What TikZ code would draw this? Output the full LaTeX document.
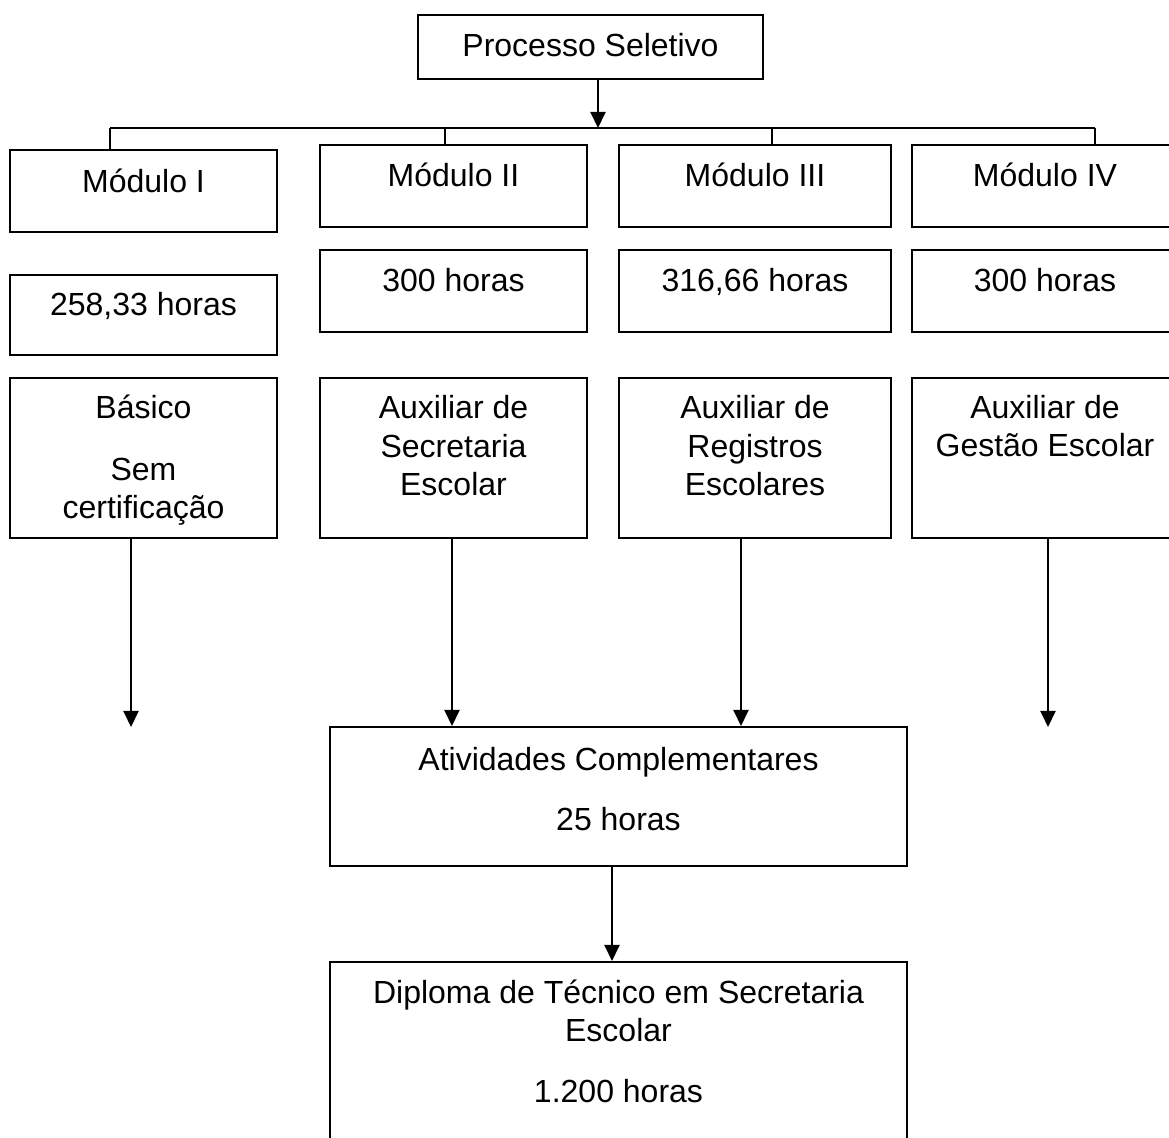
\documentclass[tikz,border=0pt]{standalone}
\usepackage{fontspec}
\setmainfont{Liberation Sans}
\usetikzlibrary{arrows.meta,positioning}

\begin{document}
\begin{tikzpicture}[x=0.5pt, y=-0.5pt, line width=1pt,
    every node/.style={font=\fontsize{16}{19.25}\selectfont},
    box/.style={draw, inner sep=0pt, minimum width=133.5pt},
    txt/.style={anchor=base, align=center, inner sep=0pt},
    arr/.style={-{Triangle[length=8pt, width=7.5pt]}}]
    \useasboundingbox (0,0) rectangle (1169,1138);

    \node[box, minimum width=172.5pt, minimum height=32pt] (proc) at (590.5,47) {};
    \node[txt] (proct) at (590.5,57) {Processo Seletivo};

    % modulos
    \node[box, minimum height=41pt] (m1) at (143.5,191) {};
    \node[box, minimum height=41pt] (m2) at (453.5,186) {};
    \node[box, minimum height=41pt, minimum width=136pt] (m3) at (755,186) {};
    \node[box, minimum height=41pt, minimum width=132pt] (m4) at (1044,186) {};
    \node[txt] (m1t) at (143.5,193) {Módulo I};
    \node[txt] (m2t) at (453.5,187) {Módulo II};
    \node[txt] (m3t) at (755,187) {Módulo III};
    \node[txt] (m4t) at (1045,187) {Módulo IV};

    % horas
    \node[box, minimum height=40pt] (h1) at (143.5,315) {};
    \node[box, minimum height=41pt] (h2) at (453.5,291) {};
    \node[box, minimum height=41pt, minimum width=136pt] (h3) at (755,291) {};
    \node[box, minimum height=41pt, minimum width=132pt] (h4) at (1044,291) {};
    \node[txt] (h1t) at (143.5,316) {258,33 horas};
    \node[txt] (h2t) at (453.5,292) {300 horas};
    \node[txt] (h3t) at (755,292) {316,66 horas};
    \node[txt] (h4t) at (1045,292) {300 horas};

    % certificacoes
    \node[box, minimum height=80pt] (c1) at (143.5,458) {};
    \node[box, minimum height=80pt] (c2) at (453.5,458) {};
    \node[box, minimum height=80pt, minimum width=136pt] (c3) at (755,458) {};
    \node[box, minimum height=80pt, minimum width=132pt] (c4) at (1044,458) {};
    \node[txt] (c1a) at (143.5,419) {Básico};
    \node[txt] (c1b) at (143.5,519) {Sem\\certificação};
    \node[txt] (c2t) at (453.5,496) {Auxiliar de\\Secretaria\\Escolar};
    \node[txt] (c3t) at (755,496) {Auxiliar de\\Registros\\Escolares};
    \node[txt] (c4t) at (1045,457) {Auxiliar de\\Gestão Escolar};

    \node[box, minimum width=288.5pt, minimum height=69.5pt] (ativ) at (618.5,796.5) {};
    \node[txt] (ativa) at (618.5,771) {Atividades Complementares};
    \node[txt] (ativb) at (618.5,831) {25 horas};

    \node[box, minimum width=288.5pt, minimum height=92pt] (dipl) at (618.5,1054) {};
    \node[txt] (dipla) at (618.5,1042) {Diploma de Técnico em Secretaria\\Escolar};
    \node[txt] (diplb) at (618.5,1103) {1.200 horas};

    \coordinate (busL) at (110,128);
    \coordinate (busR) at (1095,128);
    \coordinate (busM) at (598,128);
    \coordinate (end1) at (131,727);
    \coordinate (end4) at (1048,727);

    \draw[arr] (proc.south -| busM) -- (busM);
    \draw (busL) -- (busR);
    \draw (busL) -- (busL |- m1.north);
    \draw (busL -| 445,0) -- (m2.north -| 445,0);
    \draw (busL -| 772,0) -- (m3.north -| 772,0);
    \draw (busR) -- (busR |- m4.north);

    \draw[arr] (c1.south -| end1) -- (end1);
    \draw[arr] (c2.south -| 452,0) -- (ativ.north -| 452,0);
    \draw[arr] (c3.south -| 741,0) -- (ativ.north -| 741,0);
    \draw[arr] (c4.south -| end4) -- (end4);
    \draw[arr] (ativ.south -| 612,0) -- (dipl.north -| 612,0);
\end{tikzpicture}
\end{document}
